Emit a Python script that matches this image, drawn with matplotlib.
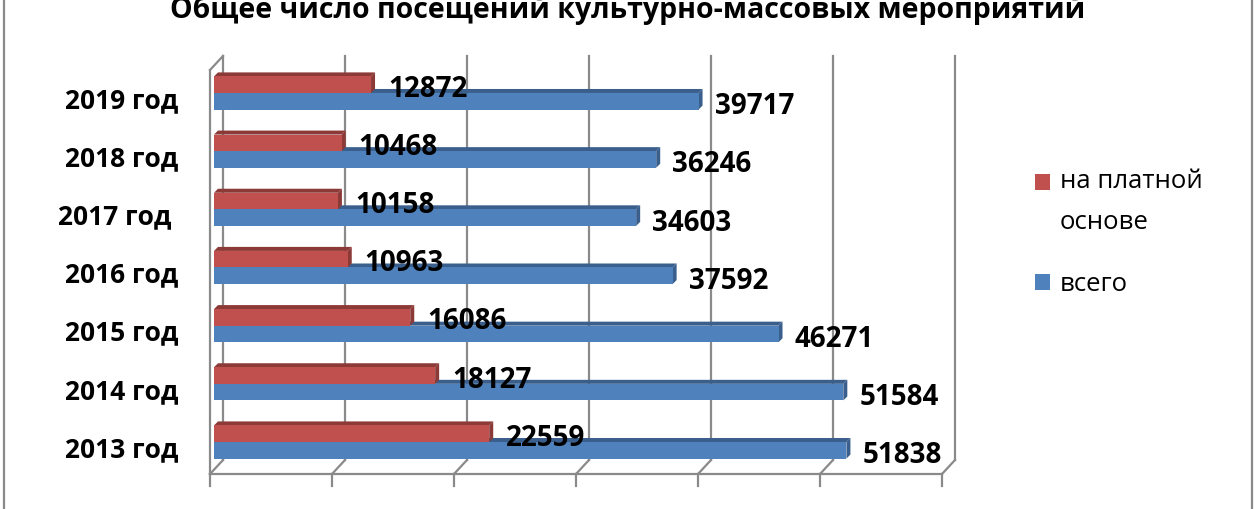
import matplotlib
matplotlib.use("Agg")
import matplotlib.pyplot as plt
from matplotlib.patches import Polygon, Rectangle
from matplotlib.lines import Line2D

plt.rcParams['font.family'] = ['Open Sans', 'DejaVu Sans']

# ---- data ----
title = "Общее число посещений культурно-массовых мероприятий"
categories = ["2013 год", "2014 год", "2015 год", "2016 год", "2017 год ", "2018 год", "2019 год"]
paid = [22559, 18127, 16086, 10963, 10158, 10468, 12872]
total = [51838, 51584, 46271, 37592, 34603, 36246, 39717]
series_names = ["на платной\nоснове", "всего"]
colors_front = ["#C0504D", "#4F81BD"]
colors_dark = ["#8C3A38", "#3A5F8C"]
xticks = [0, 10000, 20000, 30000, 40000, 50000, 60000]

W, H, DPI = 1260, 510, 100
fig = plt.figure(figsize=(W / DPI, H / DPI), dpi=DPI)
fig.patch.set_facecolor("white")

# axes geometry (pixels)
left_px, right_px, top_px, bot_px = 214, 946, 57, 475
ax = fig.add_axes([left_px / W, (H - bot_px) / H, (right_px - left_px) / W, (bot_px - top_px) / H])
ax.set_xlim(0, 60000)
ppu_y = 58.17
y0 = -(bot_px - 443) / ppu_y
y1 = (443 - top_px) / ppu_y
ax.set_ylim(y0, y1)
ax.axis("off")

xu = 60000 / (right_px - left_px)   # data units per pixel (x)
yu = 1 / ppu_y                       # data units per pixel (y)

grid_c = "#8A8A8A"
glw = 1.6
DX, DY = 13, 14      # wall depth offset in px
FX = -4              # front plane x offset in px
BX = FX + DX         # back plane x offset

# back wall gridlines + floor diagonals + ticks
for v in xticks:
    xb = v + BX * xu
    xf = v + FX * xu
    ax.add_line(Line2D([xb, xb], [y0 + DY * yu, y1], color=grid_c, lw=glw, clip_on=False, zorder=1))
    ax.add_line(Line2D([xb, xf], [y0 + DY * yu, y0], color=grid_c, lw=glw, clip_on=False, zorder=1))
    ax.add_line(Line2D([xf, xf], [y0, y0 - 12 * yu], color=grid_c, lw=glw, clip_on=False, zorder=1))
# floor front edge
ax.add_line(Line2D([xticks[0] + FX * xu, xticks[-1] + FX * xu], [y0, y0], color=grid_c, lw=glw, clip_on=False, zorder=1))
# left wall front edge + top diagonal
ax.add_line(Line2D([FX * xu, FX * xu], [y0, y1 - DY * yu], color=grid_c, lw=glw, clip_on=False, zorder=1))
ax.add_line(Line2D([FX * xu, BX * xu], [y1 - DY * yu, y1], color=grid_c, lw=glw, clip_on=False, zorder=1))

# bars
th = 0.285
bdx, bdy = 4 * xu, 4 * yu
for i in range(len(categories)):
    for s, (vals, bottom) in enumerate([(total, i - th), (paid, i)]):
        si = 1 if s == 0 else 0
        v = vals[i]
        z = 3 + s * 2
        top = bottom + th
        ax.add_patch(Polygon([(0, top), (v, top), (v + bdx, top + bdy), (bdx, top + bdy)],
                             closed=True, facecolor=colors_dark[si], edgecolor="none", zorder=z, clip_on=False))
        ax.add_patch(Polygon([(v, bottom), (v, top), (v + bdx, top + bdy), (v + bdx, bottom + bdy)],
                             closed=True, facecolor=colors_dark[si], edgecolor="none", zorder=z, clip_on=False))
        ax.barh(bottom, v, height=th, align="edge", color=colors_front[si], edgecolor="none", zorder=z + 0.5)

# data labels
lab_kw = dict(fontsize=20, fontweight="bold", color="black", ha="left", va="baseline",
              textcoords="offset pixels", annotation_clip=False, zorder=10)
for i in range(len(categories)):
    ax.annotate(f"{paid[i]}", xy=(paid[i], i + th / 2), xytext=(17, -11), **lab_kw)
    ax.annotate(f"{total[i]}", xy=(total[i], i - th / 2), xytext=(16, -12), **lab_kw)

# category labels
for i, c in enumerate(categories):
    ax.annotate(c, xy=(0, i), xytext=(-36, -14), textcoords="offset pixels", fontsize=19,
                fontweight="bold", ha="right", va="baseline", annotation_clip=False)

# title (cut off at the top edge, as in the reference)
fig.text(628 / W, (H - 18) / H, title, fontsize=20.5, fontweight="bold", ha="center", va="baseline")

# legend
leg_items = [(series_names[0], colors_front[0], 175, [188, 229]),
             (series_names[1], colors_front[1], 275, [291])]
for name, col, ytop, baselines in leg_items:
    fig.patches.append(Rectangle((1035 / W, (H - ytop - 16) / H), 15 / W, 16 / H,
                                 transform=fig.transFigure, facecolor=col, edgecolor="none"))
    for line, yb in zip(name.split("\n"), baselines):
        fig.text(1060 / W, (H - yb) / H, line, fontsize=18.5, ha="left", va="baseline")

# outer border (left/right edges)
for xp in (4, 1252):
    fig.add_artist(Line2D([xp / W, xp / W], [0, 1], transform=fig.transFigure, color="#8A8A8A", lw=1.6))

fig.savefig("out.png", dpi=DPI)
